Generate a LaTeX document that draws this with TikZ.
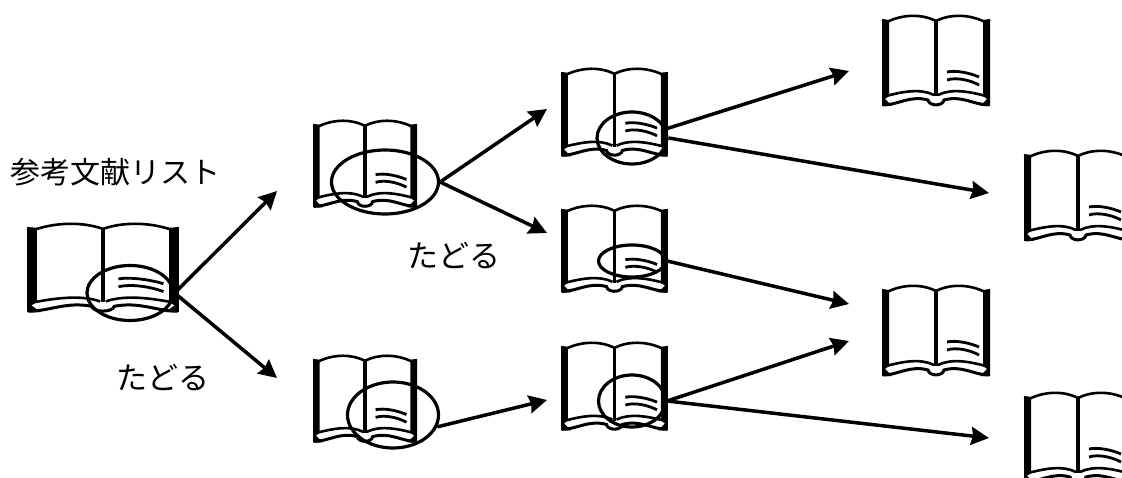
\documentclass[tikz,border=0pt]{standalone}
\usepackage{fontspec}
\setmainfont{Noto Sans CJK JP}
\usepackage{tikz}
\usetikzlibrary{arrows.meta,shapes.geometric,positioning}
\tikzset{
  lens/.style={draw=black,ellipse,line width=3.2pt,inner sep=0pt},
  jump/.style={line width=3.5pt,-{Stealth[length=18pt,width=18pt,inset=2pt]}},
  word/.style={font=\fontsize{30pt}{32pt}\selectfont,inner sep=0pt},
  bookicon/.pic={
    \fill[black] (0,4) -- (7,5) -- (7,81) -- (3,84) -- (10,91) -- (0,91) -- cycle;
    \fill[black] (108,4) -- (101,5) -- (101,81) -- (105,84) -- (98,91) -- (108,91) -- cycle;
    \draw[line width=2.6pt] (0,6) -- (6,6.5) .. controls (22,-1) and (40,-1) .. (54,6) .. controls (68,-1) and (86,-1) .. (102,6.5) -- (108,6);
    \draw[line width=3.4pt] (54,5) -- (54,81);
    \draw[line width=2.6pt] (3,81) -- (6,80.5) .. controls (20,77) and (38,73) .. (52,80);
    \draw[line width=2.6pt] (105,81) -- (102,80.5) .. controls (88,77) and (70,73) .. (56,80);
    \draw[line width=3pt] (1,90) .. controls (16,90) and (28,80) .. (46,85) .. controls (47,91.5) and (61,91.5) .. (62,85) .. controls (80,80) and (92,90) .. (107,90);
    \draw[line width=2.8pt] (65,57) .. controls (74,55) and (88,58) .. (97,62);
    \draw[line width=2.8pt] (65,65) .. controls (74,62) and (88,65) .. (97,70);
  }
}
\begin{document}
\begin{tikzpicture}[x=1pt,y=-1pt]
\clip (0,0) rectangle (1122,478);
% books, left top corner and stretch
\pic (B0) at (27,223) [xscale=1.407,yscale=0.98] {bookicon};
\pic (B1) at (313,120) [xscale=0.963,yscale=0.96] {bookicon};
\pic (B2) at (561,68) [xscale=0.99,yscale=0.97] {bookicon};
\pic (B3) at (882,15) {bookicon};
\pic (B4) at (1024,150) {bookicon};
\pic (B5) at (561,205) [xscale=0.99,yscale=0.96] {bookicon};
\pic (B6) at (882,285) {bookicon};
\pic (B7) at (313,355) [xscale=0.963,yscale=0.96] {bookicon};
\pic (B8) at (561,342) [xscale=0.99,yscale=0.97] {bookicon};
\pic (B9) at (1024,392) {bookicon};

\node[lens,minimum width=86pt,minimum height=55pt] (E0) at (130,293) {};
\node[lens,minimum width=107pt,minimum height=64pt] (E1) at (385,182) {};
\node[lens,minimum width=70pt,minimum height=52pt] (E2) at (632,138) {};
\node[lens,minimum width=67pt,minimum height=32pt] (E5) at (632,261) {};
\node[lens,minimum width=91pt,minimum height=66pt] (E7) at (393,415) {};
\node[lens,minimum width=67pt,minimum height=52pt] (E8) at (632,401) {};

\coordinate (T1) at (277,191);
\coordinate (T7) at (277,378);
\coordinate (T2) at (547,109);
\coordinate (T5) at (547,233);
\coordinate (T8) at (547,400);
\coordinate (T3) at (849,71);
\coordinate (T4) at (989,193);
\coordinate (T6a) at (849,304);
\coordinate (T6b) at (849,341);
\coordinate (T9) at (989,438);

\draw[jump] (E0.east)--(T1);
\draw[jump] (E0.east)--(T7);
\draw[jump] (E1.east)--(T2);
\draw[jump] (E1.east)--(T5);
\draw[jump] (E7.-15)--(T8);
\draw[jump] (E2.15)--(T3);
\draw[jump] (E2.east)--(T4);
\draw[jump] (E5.east)--(T6a);
\draw[jump] (E8.east)--(T6b);
\draw[jump] (E8.east)--(T9);

\node[word,anchor=west] (L0) at (10,172) {参考文献リスト};
\node[word,font=\fontsize{31pt}{33pt}\selectfont] (L1) at (454,256) {たどる};
\node[word,font=\fontsize{31pt}{33pt}\selectfont] (L2) at (163,378) {たどる};
\end{tikzpicture}
\end{document}
